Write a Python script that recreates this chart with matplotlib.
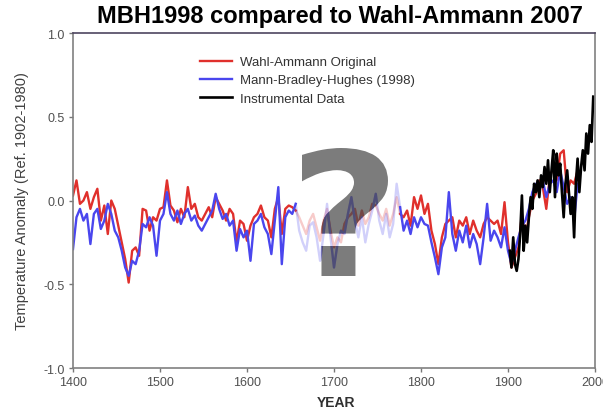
import numpy as np
import matplotlib
matplotlib.use('Agg')
import matplotlib.pyplot as plt
import matplotlib.transforms as mtransforms
from matplotlib.textpath import TextPath
from matplotlib.patches import PathPatch
from matplotlib.font_manager import FontProperties

plt.rcParams['font.family'] = ['Liberation Sans', 'DejaVu Sans']

# reconstruction years (every 4 years, 1400-1980)
recon_years = np.arange(1400, 1984, 4)

# Mann-Bradley-Hughes (1998)
mbh = [
    -0.29, -0.10, -0.05, -0.12, -0.08, -0.26, -0.08, -0.05, -0.17, -0.12,
    -0.02, -0.08, -0.18, -0.22, -0.30, -0.40, -0.45, -0.36, -0.38, -0.30,
    -0.14, -0.16, -0.10, -0.15, -0.33, -0.12, -0.08, 0.05, -0.08, -0.12,
    -0.06, -0.14, -0.08, -0.05, -0.12, -0.09, -0.15, -0.18, -0.14, -0.10,
    -0.06, 0.04, -0.05, -0.11, -0.08, -0.15, -0.12, -0.30, -0.17, -0.22,
    -0.18, -0.36, -0.14, -0.12, -0.08, -0.16, -0.20, -0.32, -0.12, 0.08,
    -0.38, -0.10, -0.06, -0.08, -0.02, -0.18, -0.25, -0.30, -0.15, -0.13,
    -0.22, -0.36, -0.20, -0.02, -0.22, -0.40, -0.26, -0.18, -0.20, -0.08,
    0.02, -0.12, -0.22, -0.10, -0.25, -0.14, -0.06, 0.04, -0.12, -0.20,
    -0.08, -0.22, -0.14, 0.10, -0.04, -0.18, -0.12, -0.20, -0.10, -0.16,
    -0.10, -0.14, -0.15, -0.25, -0.34, -0.44, -0.28, -0.22, 0.05, -0.20,
    -0.30, -0.18, -0.25, -0.15, -0.28, -0.20, -0.26, -0.38, -0.22, -0.02,
    -0.24, -0.18, -0.22, -0.28, -0.16, -0.30, -0.38, -0.30, -0.22, -0.15,
    -0.12, -0.05, 0.05, 0.10, 0.06, 0.12, 0.02, 0.10, 0.12, 0.05,
    0.18, 0.08, -0.02, 0.02, -0.12, 0.10,
]

# Wahl-Ammann original
wahl = [
    0.03, 0.12, -0.02, 0.00, 0.05, -0.05, 0.02, 0.07, -0.12, -0.03,
    -0.20, 0.00, -0.05, -0.15, -0.25, -0.35, -0.49, -0.30, -0.28, -0.33,
    -0.05, -0.06, -0.18, -0.10, -0.12, -0.05, -0.04, 0.12, -0.03, -0.06,
    -0.13, -0.05, -0.10, 0.08, -0.05, -0.02, -0.10, -0.12, -0.08, -0.04,
    -0.10, 0.02, -0.02, -0.06, -0.12, -0.05, -0.08, -0.25, -0.12, -0.14,
    -0.24, -0.15, -0.10, -0.08, -0.03, -0.10, -0.12, -0.22, -0.05, 0.02,
    -0.20, -0.05, -0.03, -0.04, -0.06, -0.10, -0.15, -0.20, -0.12, -0.08,
    -0.16, -0.24, -0.12, -0.05, -0.18, -0.28, -0.22, -0.25, -0.14, -0.10,
    -0.08, -0.05, -0.15, -0.06, -0.14, -0.10, -0.02, -0.03, -0.08, -0.12,
    -0.05, -0.15, -0.08, 0.02, -0.08, -0.10, -0.06, -0.15, 0.02, -0.05,
    0.03, -0.08, -0.02, -0.18, -0.26, -0.38, -0.22, -0.14, -0.12, -0.10,
    -0.22, -0.12, -0.15, -0.10, -0.20, -0.12, -0.18, -0.22, -0.14, -0.10,
    -0.12, -0.14, -0.12, -0.20, -0.01, -0.25, -0.40, -0.34, -0.28, -0.08,
    -0.22, -0.10, 0.00, 0.04, 0.12, 0.08, -0.05, 0.14, 0.20, 0.12,
    0.28, 0.30, 0.05, 0.12, 0.10, 0.18,
]

# instrumental record (every 2 years, 1902-1998)
instr_years = np.arange(1902, 2000, 2)
instr = [
    -0.30, -0.40, -0.22, -0.38, -0.42, -0.35, -0.20, 0.03, -0.30, -0.15,
    -0.25, -0.10, 0.02, -0.05, 0.10, 0.05, 0.12, 0.02, 0.15, 0.08,
    0.20, 0.10, 0.24, 0.05, 0.18, 0.30, 0.02, 0.28, 0.15, 0.22,
    0.05, -0.10, 0.10, 0.18, 0.05, -0.08, 0.02, -0.22, 0.10, 0.25,
    0.05, 0.20, 0.30, 0.18, 0.40, 0.28, 0.45, 0.35, 0.62,
]

# years hidden behind the question mark
hide_start, hide_end = 1656, 1776

RED = '#e0302c'
BLUE = '#4a46ee'

fig = plt.figure(figsize=(6.03, 4.10), dpi=100)
ax = fig.add_axes([73 / 603, 1 - 369 / 410, 522 / 603, 335 / 410])

mbh = np.array(mbh)
wahl = np.array(wahl)
before = recon_years <= hide_start
middle = (recon_years >= hide_start) & (recon_years <= hide_end)
after = recon_years >= hide_end

# the big question mark, sized in output pixels
qpath = TextPath((0, 0), '?', size=100,
                 prop=FontProperties(family='DejaVu Sans', weight='bold'))
ext = qpath.get_extents()
qtrans = (mtransforms.Affine2D()
          .translate(-(ext.x0 + ext.x1) / 2, -(ext.y0 + ext.y1) / 2)
          .scale(86 / ext.width, 128 / ext.height)
          .translate(345, 410 - 213))
qpatch = PathPatch(qpath, transform=qtrans, facecolor='#505050',
                   edgecolor='none', alpha=0.75, zorder=5)

for vals, col, lab in [(wahl, RED, 'Wahl-Ammann Original'),
                       (mbh, BLUE, 'Mann-Bradley-Hughes (1998)')]:
    ax.plot(recon_years[before], vals[before], color=col, lw=1.7, label=lab)
    ax.plot(recon_years[after], vals[after], color=col, lw=1.7)
    ax.plot(recon_years[middle], vals[middle], color=col, lw=1.7, alpha=0.25)
    dark, = ax.plot(recon_years[middle], vals[middle], color=col, lw=1.7)
    dark.set_clip_path(qpatch)

ax.plot(instr_years, instr, color='black', lw=1.9, label='Instrumental Data')
ax.add_patch(qpatch)

ax.set_xlim(1400, 2000)
ax.set_ylim(-1.0, 1.0)
ax.set_xticks(np.arange(1400, 2001, 100))
ax.set_yticks([-1.0, -0.5, 0.0, 0.5, 1.0])
ax.set_yticklabels(['-1.0', '-0.5', '0.0', '0.5', '1.0'])
ax.tick_params(direction='out', length=3, width=1, color='#777777',
               labelcolor='#505050', labelsize=9, pad=3)

for side in ['left', 'right', 'bottom']:
    ax.spines[side].set_color('#808080')
    ax.spines[side].set_linewidth(1.2)
ax.spines['top'].set_color('#4e4660')
ax.spines['top'].set_linewidth(1.2)

ax.set_ylabel('Temperature Anomaly (Ref. 1902-1980)', fontsize=10.5,
              color='#404040', labelpad=10)
fig.text(336 / 603, 1 - 403 / 410, 'YEAR', ha='center', va='center',
         fontsize=10, fontweight='bold', color='#303030')
fig.text(340 / 603, 1 - 17 / 410, 'MBH1998 compared to Wahl-Ammann 2007',
         ha='center', va='center', fontsize=17, fontweight='bold')

ax.legend(loc='upper left', bbox_to_anchor=((200 - 73) / 522, 1 - (57 - 34) / 335),
          frameon=False, fontsize=9.5, handlelength=2.4, handletextpad=0.6,
          labelspacing=0.45, borderpad=0, borderaxespad=0, labelcolor='#333333')

fig.savefig('out.png', dpi=100)
